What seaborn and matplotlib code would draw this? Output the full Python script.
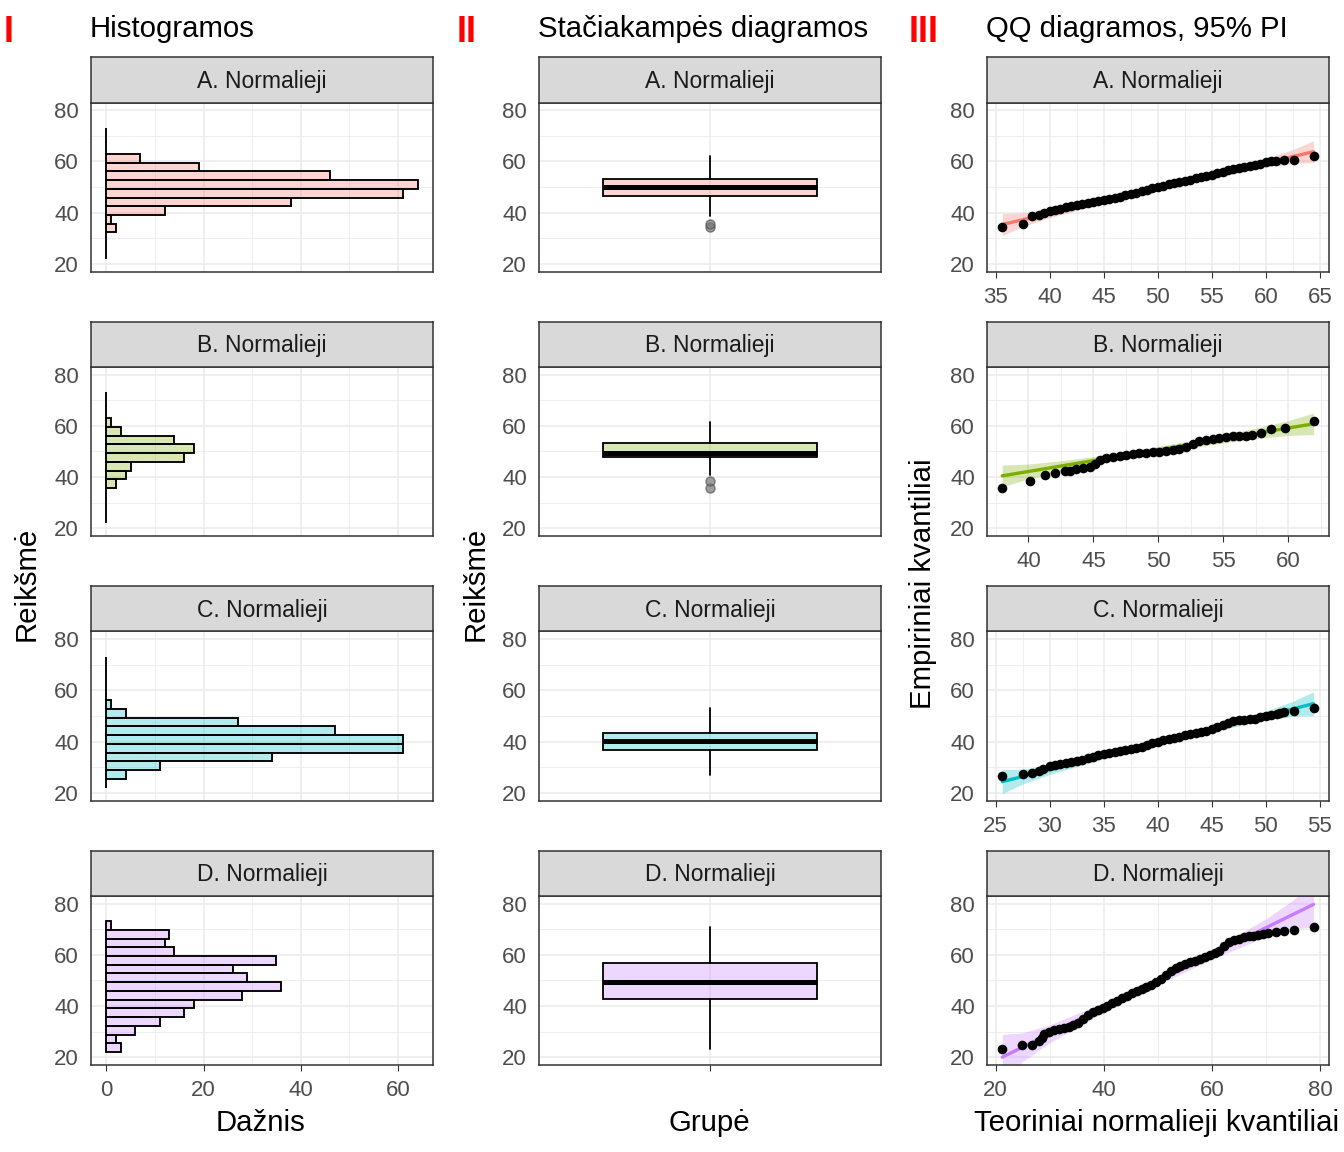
import numpy as np
import pandas as pd
import matplotlib
matplotlib.use("Agg")
import matplotlib.pyplot as plt
from matplotlib.colors import to_rgba
from matplotlib.ticker import FixedLocator
import seaborn as sns

sns.set_style("white")
plt.rcParams["font.family"] = ["Liberation Sans", "DejaVu Sans"]

# ---------------- data ----------------
groups = ["A. Normalieji", "B. Normalieji", "C. Normalieji", "D. Normalieji"]
colors = ["#F8766D", "#7CAE00", "#00BFC4", "#C77CFF"]

hist_edges = [22.10, 25.51, 28.91, 32.32, 35.72, 39.13, 42.54, 45.94, 49.35,
              52.75, 56.16, 59.57, 62.97, 66.38, 69.78, 73.19]
hist_a = [0, 0, 0, 2, 1, 12, 38, 61, 64, 46, 19, 7, 0, 0, 0]
hist_b = [0, 0, 0, 0, 2, 4, 5, 16, 18, 14, 3, 1, 0, 0, 0]
hist_c = [0, 4, 11, 34, 61, 61, 47, 27, 4, 1, 0, 0, 0, 0, 0]
hist_d = [3, 2, 6, 11, 16, 18, 28, 36, 29, 26, 35, 14, 12, 13, 1]

box_q1 = [46.56, 47.80, 36.78, 42.95]
box_med = [49.90, 49.55, 40.30, 49.60]
box_q3 = [53.09, 53.13, 43.46, 57.00]
box_lo = [38.60, 40.87, 26.90, 23.26]
box_hi = [62.31, 61.60, 53.01, 70.87]
box_out_a = [34.41, 35.46]
box_out_b = [35.78, 38.65]
box_out_c = []
box_out_d = []

qq_a_x = [35.61, 37.49, 38.38, 39.03, 39.50, 40.0, 40.5, 41.0, 41.5, 42.0, 42.5, 43.0, 43.5,
          44.0, 44.5, 45.0, 45.5, 46.0, 46.5, 47.0, 47.5, 48.0, 48.5, 49.0, 49.5, 50.0, 50.5,
          51.0, 51.5, 52.0, 52.5, 53.0, 53.5, 54.0, 54.5, 55.0, 55.5, 56.0, 56.5, 57.0, 57.5,
          58.0, 58.5, 59.0, 59.5, 60.0, 60.5, 60.91, 61.68, 62.57, 64.42]
qq_a_y = [34.41, 35.46, 38.60, 39.26, 39.95, 40.7, 41.2, 41.6, 42.1, 42.6, 43.0, 43.4, 43.85,
          44.2, 44.5, 44.85, 45.3, 45.8, 46.3, 46.8, 47.3, 47.8, 48.4, 49.0, 49.6, 50.1, 50.6,
          51.1, 51.5, 51.95, 52.4, 52.9, 53.4, 53.9, 54.4, 54.9, 55.4, 55.9, 56.5, 57.0, 57.4,
          57.8, 58.2, 58.6, 59.1, 59.6, 60.2, 60.35, 60.48, 60.61, 62.31]

qq_b_x = [37.98, 40.13, 41.28, 42.02, 42.79, 43.17, 43.68, 44.20, 44.71, 45.09, 45.47, 45.99,
          46.50, 47.01, 47.52, 48.03, 48.54, 49.06, 49.57, 50.08, 50.59, 51.10, 51.61, 52.13,
          52.64, 53.15, 53.66, 54.17, 54.68, 55.20, 55.71, 56.22, 56.73, 57.24, 57.88, 58.70,
          59.77, 61.95]
qq_b_y = [35.78, 38.65, 40.87, 41.78, 42.44, 42.57, 43.09, 43.61, 44.00, 45.31, 46.61, 47.43,
          47.82, 48.34, 48.73, 48.99, 49.25, 49.38, 49.64, 49.90, 50.29, 50.55, 51.07, 51.72,
          52.90, 53.94, 54.46, 54.98, 55.24, 55.50, 56.02, 56.02, 56.02, 56.28, 57.06, 58.63,
          59.02, 61.76]

qq_c_x = [25.61, 27.49, 28.38, 29.0, 29.4, 30.0, 30.5, 31.0, 31.5, 32.0, 32.5, 33.0, 33.5, 34.0,
          34.5, 35.0, 35.5, 36.0, 36.5, 37.0, 37.5, 38.0, 38.5, 39.0, 39.5, 40.0, 40.5, 41.0,
          41.5, 42.0, 42.5, 43.0, 43.5, 44.0, 44.5, 45.0, 45.5, 46.0, 46.5, 47.0, 47.5, 48.0,
          48.5, 49.0, 49.5, 50.0, 50.5, 51.0, 51.35, 51.71, 52.57, 54.42]
qq_c_y = [26.68, 27.33, 27.86, 28.51, 29.3, 30.4, 31.0, 31.35, 31.7, 32.05, 32.5, 33.0, 33.55,
          34.15, 34.7, 35.25, 35.7, 36.05, 36.35, 36.65, 37.0, 37.45, 37.95, 38.6, 39.35, 39.9,
          40.5, 40.95, 41.45, 41.95, 42.45, 43.05, 43.5, 43.85, 44.3, 44.8, 45.7, 46.6, 47.4,
          47.95, 48.3, 48.6, 48.75, 49.0, 49.45, 49.95, 50.4, 50.95, 51.2, 51.44, 51.83, 53.01]

qq_d_x = [21.23, 24.86, 26.76, 28.05, 28.5, 29.0, 29.9, 30.8, 31.7, 32.6, 33.5, 34.4, 35.3,
          36.2, 37.1, 38.0, 38.9, 39.8, 40.7, 41.6, 42.5, 43.4, 44.3, 45.2, 46.1, 47.0, 47.9,
          48.8, 49.7, 50.6, 51.5, 52.4, 53.3, 54.2, 55.1, 56.0, 56.9, 57.8, 58.7, 59.6, 60.5,
          61.4, 62.3, 63.2, 64.1, 65.0, 65.9, 66.8, 67.7, 68.6, 69.5, 70.4, 71.81, 73.41,
          75.13, 78.82]
qq_d_y = [23.26, 24.70, 24.70, 26.26, 27.6, 29.2, 30.0, 30.55, 31.0, 31.5, 32.0, 32.6, 33.4,
          34.9, 36.7, 37.9, 38.6, 39.4, 40.2, 41.1, 42.1, 43.05, 44.0, 44.95, 45.9, 46.85, 47.6,
          48.3, 49.3, 50.5, 52.2, 53.8, 54.9, 55.7, 56.35, 57.05, 57.8, 58.55, 59.25, 59.95,
          60.7, 61.6, 63.5, 65.0, 65.8, 66.3, 66.8, 67.2, 67.55, 67.9, 68.2, 68.5, 68.91, 69.30,
          69.57, 70.87]

# reference line end points (theoretical, empirical)
qq_line_x = [[35.61, 64.42], [37.98, 61.95], [25.61, 54.42], [21.23, 78.82]]
qq_line_y = [[35.40, 63.80], [40.50, 60.80], [24.40, 54.80], [20.10, 79.70]]

# 95% pointwise band outline
band_a_x = [35.61, 37.5, 40.0, 45.0, 50.0, 55.0, 60.0, 62.5, 64.42]
band_a_lo = [31.14, 34.56, 38.07, 43.75, 48.84, 53.60, 57.78, 59.21, 59.54]
band_a_hi = [39.66, 39.96, 41.39, 45.57, 50.34, 55.42, 61.10, 64.61, 68.06]
band_b_x = [37.98, 40.0, 42.5, 45.0, 50.0, 55.0, 57.5, 60.0, 61.95]
band_b_lo = [36.26, 39.33, 42.29, 44.88, 49.37, 53.35, 55.00, 56.28, 56.56]
band_b_hi = [44.74, 45.09, 46.37, 48.02, 51.99, 56.49, 59.08, 62.04, 65.04]
band_c_x = [25.61, 27.5, 30.0, 35.0, 40.0, 45.0, 50.0, 52.5, 54.42]
band_c_lo = [19.75, 23.46, 27.22, 33.31, 38.76, 43.86, 48.33, 49.84, 50.15]
band_c_hi = [29.05, 29.32, 30.84, 35.31, 40.40, 45.86, 51.95, 55.70, 59.45]
band_d_x = [21.23, 25.0, 30.0, 40.0, 50.0, 60.0, 70.0, 75.0, 78.82]
band_d_lo = [11.20, 18.40, 25.71, 37.63, 48.29, 58.32, 67.10, 70.14, 70.80]
band_d_hi = [29.00, 29.60, 32.65, 41.43, 51.45, 62.12, 74.04, 81.34, 88.60]

qq_xmajor = [[35, 40, 45, 50, 55, 60, 65], [40, 45, 50, 55, 60],
             [25, 30, 35, 40, 45, 50, 55], [20, 40, 60, 80]]
qq_xminor = [[37.5, 42.5, 47.5, 52.5, 57.5, 62.5], [37.5, 42.5, 47.5, 52.5, 57.5, 62.5],
             [27.5, 32.5, 37.5, 42.5, 47.5, 52.5], [30, 50, 70]]

hists = [hist_a, hist_b, hist_c, hist_d]
outs = [box_out_a, box_out_b, box_out_c, box_out_d]
qqx = [qq_a_x, qq_b_x, qq_c_x, qq_d_x]
qqy = [qq_a_y, qq_b_y, qq_c_y, qq_d_y]
bands = [(band_a_x, band_a_lo, band_a_hi), (band_b_x, band_b_lo, band_b_hi),
         (band_c_x, band_c_lo, band_c_hi), (band_d_x, band_d_lo, band_d_hi)]

# ---------------- layout ----------------
W, H = 1344, 1152
fig = plt.figure(figsize=(W / 100, H / 100), dpi=100)
LEFTS = [90.7, 538.7, 986.7]
TOPS = [102.5, 366.9, 631.4, 895.9]
PW, PH, SH = 342.4, 169.2, 45.2
GRID = "#EBEBEB"
YLIM = (17, 83)


def panel(col, row):
    l, t = LEFTS[col], TOPS[row]
    ax = fig.add_axes([l / W, 1 - (t + PH) / H, PW / W, PH / H])
    st = fig.add_axes([l / W, 1 - t / H, PW / W, SH / H])
    st.set_facecolor("#D9D9D9")
    st.set_xticks([]); st.set_yticks([])
    for s in st.spines.values():
        s.set_color("#333333"); s.set_linewidth(1.1)
    st.text(0.5, 0.47, groups[row], ha="center", va="center", fontsize=16.5,
            color="#1A1A1A", transform=st.transAxes)
    return ax


def style(ax, xmaj, xmin, xlim, xticks=True, xlabels=True):
    ax.set_xlim(xlim); ax.set_ylim(YLIM)
    ax.xaxis.set_major_locator(FixedLocator(xmaj))
    ax.xaxis.set_minor_locator(FixedLocator(xmin))
    ax.yaxis.set_major_locator(FixedLocator([20, 40, 60, 80]))
    ax.yaxis.set_minor_locator(FixedLocator([30, 50, 70]))
    ax.grid(which="major", color=GRID, lw=1.1)
    ax.grid(which="minor", color=GRID, lw=0.6)
    ax.set_axisbelow(True)
    ax.set_facecolor("white")
    for s in ax.spines.values():
        s.set_color("#333333"); s.set_linewidth(1.1); s.set_zorder(5)
    ax.tick_params(which="major", direction="out", length=4, width=0.8, color="#333333",
                   labelsize=16, labelcolor="#4D4D4D")
    ax.tick_params(axis="x", which="major", pad=7.0)
    ax.tick_params(axis="y", which="major", pad=4.5)
    ax.tick_params(which="minor", length=0)
    ax.tick_params(axis="x", bottom=xticks, labelbottom=xlabels)
    ax.set_xlabel(""); ax.set_ylabel("")


centers = [(hist_edges[i] + hist_edges[i + 1]) / 2 for i in range(len(hist_edges) - 1)]

for r in range(4):
    c = colors[r]
    # Histogram
    ax = panel(0, r)
    df = pd.DataFrame({"value": centers, "count": hists[r]})
    sns.histplot(data=df, y="value", weights="count", bins=hist_edges, ax=ax,
                 facecolor=to_rgba(c, 0.3), edgecolor="black", linewidth=1.35)
    style(ax, [0, 20, 40, 60], [10, 30, 50], (-3.2, 67.2), xticks=(r == 3), xlabels=(r == 3))

    # Box plot
    ax = panel(1, r)
    stats = [dict(med=box_med[r], q1=box_q1[r], q3=box_q3[r], whislo=box_lo[r],
                  whishi=box_hi[r], fliers=outs[r])]
    ax.bxp(stats, positions=[0], widths=0.75, patch_artist=True, showcaps=False,
           boxprops=dict(facecolor=to_rgba(c, 0.3), edgecolor="black", linewidth=1.3),
           medianprops=dict(color="black", linewidth=3.6, solid_capstyle="butt"),
           whiskerprops=dict(color="black", linewidth=1.3),
           flierprops=dict(marker="o", markerfacecolor="#777777", markeredgecolor="#555555",
                           markersize=6.5, alpha=0.7))
    style(ax, [0], [], (-0.6, 0.6), xticks=(r == 3), xlabels=False)

    # QQ plot
    ax = panel(2, r)
    bx, blo, bhi = bands[r]
    ax.fill_between(bx, blo, bhi, color=c, alpha=0.3, lw=0, zorder=1)
    sns.lineplot(x=qq_line_x[r], y=qq_line_y[r], color=c, lw=2.4, ax=ax, zorder=2)
    sns.scatterplot(x=qqx[r], y=qqy[r], color="black", s=48, linewidth=0, ax=ax, zorder=3)
    lo, hi = qq_line_x[r]
    pad = (hi - lo) * 0.05
    style(ax, qq_xmajor[r], qq_xminor[r], (lo - pad, hi + pad))

# ---------------- texts ----------------
TS = 21.2
for x, lab in [(4.0, "I"), (456.5, "II"), (908.5, "III")]:
    fig.text(x / W, 1 - 41.7 / H, lab, color="#FF0000", fontweight="bold", fontsize=26.0,
             ha="left", va="baseline")
for x, lab in [(90.0, "Histogramos"), (538.0, "Stačiakampės diagramos"),
               (986.0, "QQ diagramos, 95% PI")]:
    fig.text(x / W, 1 - 37.3 / H, lab, fontsize=TS, ha="left", va="baseline", color="black")
for x, lab in [(261, "Dažnis"), (709, "Grupė"), (1157, "Teoriniai normalieji kvantiliai")]:
    fig.text(x / W, 1 - 1131 / H, lab, fontsize=TS, ha="center", va="baseline", color="black")
for x, lab in [(27, "Reikšmė"), (476, "Reikšmė"), (923, "Empiriniai kvantiliai")]:
    fig.text(x / W, 1 - 583.5 / H, lab, fontsize=TS, ha="center", va="center",
             rotation=90, color="black")

fig.savefig("out.png", dpi=100)
